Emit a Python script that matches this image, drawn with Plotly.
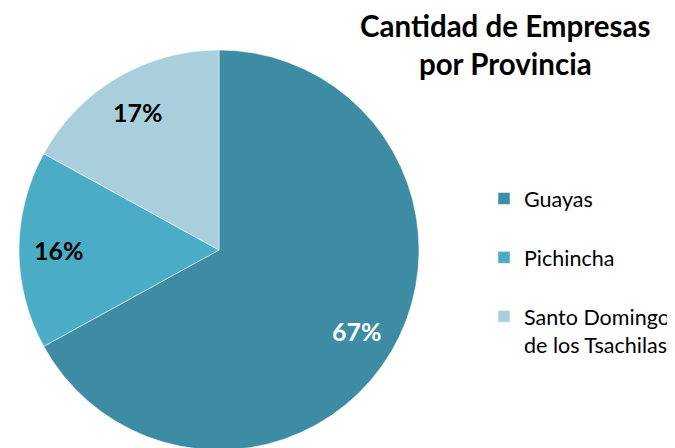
import math
import plotly.graph_objects as go

provincias = ["Guayas<br> ", "Pichincha<br> ", "Santo Domingo<br>de los Tsachilas"]
porcentajes = [67, 16, 17]
colores = ["#3D8CA4", "#4BACC6", "#A9CEDC"]
colores_texto = ["white", "black", "black"]

W, H = 675, 448
OFF = 8  # page body margin shifts the figure by 8px
cx, cy, R = 219 - OFF, 250 - OFF, 200  # pie centre / radius in pixels

fig = go.Figure()
fig.add_trace(go.Pie(
    labels=provincias,
    values=porcentajes,
    sort=False,
    direction="clockwise",
    rotation=0,
    marker=dict(colors=colores, line=dict(color="white", width=0.5)),
    textinfo="none",
    domain=dict(x=[(cx - R) / W, (cx + R) / W], y=[max(0, (H - cy - R) / H), (H - cy + R) / H]),
    hoverinfo="label+percent",
))

# percentage labels along each slice's mid angle, at 80% of the radius
total = sum(porcentajes)
anots = []
acum = 0
for v, col in zip(porcentajes, colores_texto):
    mid = (acum + v / 2) / total * 2 * math.pi
    acum += v
    px = cx + 0.8 * R * math.sin(mid)
    py = cy - 0.8 * R * math.cos(mid)
    anots.append(dict(
        text=f"<b>{round(v / total * 100)}%</b>",
        x=px / W, y=1 - py / H, xref="paper", yref="paper",
        showarrow=False, xanchor="center", yanchor="middle",
        font=dict(size=25, family="Lato", color=col),
    ))

anots.append(dict(
    text="<b>Cantidad de Empresas<br>por Provincia</b>",
    x=(505 - OFF) / W, y=1 - (44 - OFF) / H, xref="paper", yref="paper",
    xanchor="center", yanchor="middle", showarrow=False,
    font=dict(size=29.5, family="Lato", color="black"),
))

fig.update_layout(
    width=W, height=H,
    margin=dict(l=0, r=0, t=0, b=0, autoexpand=False),
    paper_bgcolor="white",
    font=dict(family="Lato", color="black"),
    showlegend=True,
    legend=dict(
        x=476 / W, y=1 - 170 / H, xanchor="left", yanchor="top",
        font=dict(size=21.5, family="Lato"),
        valign="top",
        itemwidth=30,
    ),
    annotations=anots,
)

fig.write_html("out.html")
